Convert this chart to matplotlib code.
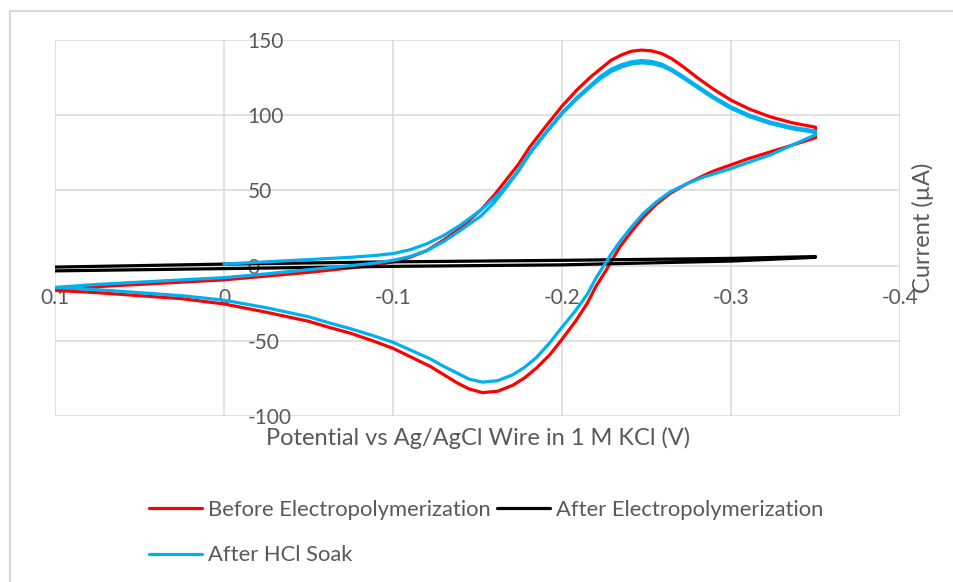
import matplotlib
matplotlib.use("Agg")
import matplotlib.pyplot as plt
from matplotlib.lines import Line2D

# ---- data (potential V, current uA) ----
fwd_v = [0.1, 0.075, 0.05, 0.025, 0.0, -0.025, -0.05, -0.075, -0.09, -0.1,
         -0.11, -0.12, -0.13, -0.14, -0.152, -0.16, -0.167, -0.174, -0.181, -0.19,
         -0.2, -0.209, -0.217, -0.223, -0.229, -0.235, -0.241, -0.247, -0.253, -0.259,
         -0.265, -0.272, -0.28, -0.29, -0.3, -0.311, -0.323, -0.336, -0.35]
rev_v = [-0.35, -0.336, -0.323, -0.31, -0.3, -0.29, -0.284, -0.274, -0.264, -0.256,
         -0.248, -0.241, -0.234, -0.229, -0.226, -0.22, -0.215, -0.208, -0.2, -0.193,
         -0.185, -0.178, -0.171, -0.162, -0.153, -0.145, -0.138, -0.13, -0.122, -0.111,
         -0.1, -0.088, -0.075, -0.062, -0.05, -0.025, 0.0, 0.025, 0.05, 0.075, 0.1]

# Before Electropolymerization
red_fwd_i = [-16.5, -14, -12.5, -11, -9.5, -7, -4.5, -1.5, 0.5, 2.5,
             5.5, 10, 17, 25, 37, 47, 57, 67, 79, 92,
             106, 117, 125.5, 131, 136.5, 140, 142.5, 143.3, 142.8, 141,
             137.5, 132, 125, 117, 110, 104, 99, 95, 92]
red_rev_i = [85, 80, 75.5, 71, 67, 63, 60, 54.5, 48, 41,
             32, 22.5, 12, 2.5, -3.3, -14, -25, -37, -49, -59,
             -68, -74.5, -79.5, -83.5, -84.5, -82, -78, -72.5, -67, -61,
             -55, -50, -45, -41, -37, -31, -25.5, -22, -20, -18, -16.5]

# After Electropolymerization
blk_v = [0.1, 0.0, -0.1, -0.2, -0.3, -0.35, -0.35, -0.3, -0.2, -0.1, 0.0, 0.1]
blk_i = [-1, 1, 2.5, 3.5, 4.8, 6, 5.5, 3, 0.5, -0.5, -2, -3.5]

# After HCl Soak: first sweep starts at 0 V, then a full cycle
blu_start_v = fwd_v[4:]
blu_start_i = [1, 2.5, 4, 5.5, 6.8, 8,
               10.5, 14.5, 20, 27, 37, 45, 53, 63, 75, 88,
               101.5, 112, 120, 126, 130.5, 133.5, 135.5, 136.3, 135.8, 134,
               130.5, 125.5, 119.5, 112, 105.5, 100, 95.5, 92, 89.5]
blu_rev_i = [87, 80, 73.5, 68.5, 64.5, 61, 59, 54.5, 49, 42.5,
             34.5, 25.5, 15.5, 7.5, 2.2, -8.5, -19, -30, -41, -51,
             -61, -67.5, -72.5, -76.5, -77.5, -75.5, -71.5, -67, -62, -56.5,
             -51, -46.5, -42, -38, -34, -28, -23, -20, -18, -16, -14.5]
blu_fwd_i = [-14.5, -12.5, -11, -9.5, -8, -5.5, -2.7, 0, 1.8, 3.5,
             6, 10, 16, 23.5, 33, 42, 52, 62.5, 74.5, 87.5,
             101, 111, 119, 124.5, 129, 132, 134, 134.8, 134.3, 132.7,
             129.5, 124.5, 118.5, 111, 104.5, 99, 94.5, 91, 88.5]

x_ticks = [0.1, 0.0, -0.1, -0.2, -0.3, -0.4]
x_tick_labels = ["0.1", "0", "-0.1", "-0.2", "-0.3", "-0.4"]
y_ticks = [-100, -50, 0, 50, 100, 150]
y_tick_labels = ["-100", "-50", "0", "50", "100", "150"]

labels = ["Before Electropolymerization", "After Electropolymerization", "After HCl Soak"]
colors = ["#FF0000", "#000000", "#00B0F0"]

plt.rcParams['font.family'] = ['Lato', 'DejaVu Sans']
txt = "#595959"
grid_c = "#D9D9D9"

fig = plt.figure(figsize=(9.54, 5.82), dpi=100)
ax = fig.add_axes([55/954, 1 - 416/582, 845/954, 376/582])

lw = 2.3
kw = dict(lw=lw, solid_capstyle="round", solid_joinstyle="round")
l_red, = ax.plot(fwd_v + rev_v, red_fwd_i + red_rev_i, color=colors[0], **kw)
l_blk, = ax.plot(blk_v, blk_i, color=colors[1], **kw)
l_blu, = ax.plot(blu_start_v + rev_v + fwd_v, blu_start_i + blu_rev_i + blu_fwd_i,
                 color=colors[2], **kw)

ax.set_xlim(0.1, -0.4)
ax.set_ylim(-100, 150)
ax.set_xticks(x_ticks)
ax.set_xticklabels(x_tick_labels)
ax.set_yticks(y_ticks)
ax.set_yticklabels(y_tick_labels)

for s in ax.spines.values():
    s.set_visible(False)
ax.spines['bottom'].set_position(('data', 0))
ax.spines['right'].set_position(('data', 0))
ax.yaxis.tick_right()
ax.tick_params(axis='x', length=0, pad=16, labelsize=15, labelcolor=txt)
ax.tick_params(axis='y', length=0, pad=17, labelsize=15, labelcolor=txt)
for t in ax.get_yticklabels():
    t.set_horizontalalignment('left')
ax.grid(True, color=grid_c, lw=1.1)
ax.set_axisbelow(True)

ax.set_xlabel("Potential vs Ag/AgCl Wire in 1 M KCl (V)", fontsize=17, color=txt)
ax.xaxis.set_label_coords(0.5006, -0.0585)
ax.xaxis.label.set_verticalalignment('center')
ax.yaxis.set_label_position('right')
ax.set_ylabel("Current (µA)", fontsize=17, color=txt, rotation=90)
ax.yaxis.set_label_coords(1.027, 0.5)
ax.yaxis.label.set_verticalalignment('center')

# chart-area border (top and left visible)
fig.add_artist(Line2D([10/954, 10/954, 1.0], [0, 1 - 11/582, 1 - 11/582],
                      color=grid_c, lw=1.5, transform=fig.transFigure))

fig.legend([l_red, l_blu, l_blk], [labels[0], labels[2], labels[1]], ncol=2,
           loc='upper left', bbox_to_anchor=(149/954, 1 - 500/582), frameon=False,
           fontsize=15.8, labelcolor=txt, handlelength=2.42, handletextpad=0.25,
           columnspacing=0.32, labelspacing=1.15, borderpad=0, borderaxespad=0)

plt.savefig("out.png", dpi=100)
